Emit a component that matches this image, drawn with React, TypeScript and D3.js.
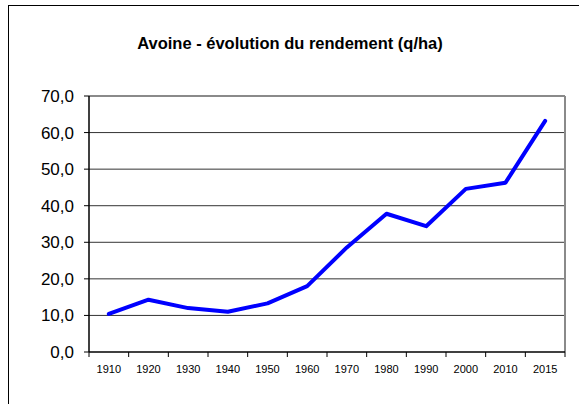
import React from "react";
import * as d3 from "d3";

const years = ["1910", "1920", "1930", "1940", "1950", "1960", "1970", "1980", "1990", "2000", "2010", "2015"];
const rendement = [10.4, 14.3, 12.0, 11.0, 13.3, 18.0, 28.6, 37.8, 34.4, 44.6, 46.3, 63.2];
const yTicks = [0, 10, 20, 30, 40, 50, 60, 70];

const W = 585;
const H = 404;
const plot = { left: 89, right: 565, top: 96, bottom: 352 };
const font = "'Liberation Sans', Arial, sans-serif";

export default function App() {
  const x = d3.scaleBand<string>().domain(years).range([plot.left, plot.right]).padding(0);
  const y = d3.scaleLinear().domain([0, 70]).range([plot.bottom, plot.top]);
  const cx = (d: string) => (x(d) as number) + x.bandwidth() / 2;

  const line = d3
    .line<number>()
    .x((_, i) => cx(years[i]))
    .y((d) => y(d));

  // tick marks sit on the band edges, like Excel category axes
  const xEdges = years.map((d) => x(d) as number).concat([plot.right]);

  return (
    <svg
      width={W}
      height={H}
      style={{ position: "absolute", left: 0, top: 0, background: "#fff" }}
      fontFamily={font}
    >
      {/* chart frame */}
      <line x1={8.5} x2={8.5} y1={5} y2={H} stroke="#000" strokeWidth={1} />
      <line x1={8} x2={579} y1={5.5} y2={5.5} stroke="#000" strokeWidth={1} />

      <text x={290} y={49} textAnchor="middle" fontSize={16.5} fontWeight="bold" fill="#000">
        Avoine - évolution du rendement (q/ha)
      </text>

      {/* grid */}
      {yTicks
        .filter((t) => t > 0 && t < 70)
        .map((t) => (
          <line key={t} x1={plot.left} x2={plot.right} y1={y(t)} y2={y(t)} stroke="#333" strokeWidth={1} />
        ))}

      {/* plot area border (gray) */}
      <line x1={plot.left} x2={plot.right} y1={plot.top} y2={plot.top} stroke="#8a8a8a" strokeWidth={2} />
      <line x1={plot.right} x2={plot.right} y1={plot.top} y2={plot.bottom} stroke="#8a8a8a" strokeWidth={2} />

      {/* y axis */}
      <line x1={plot.left} x2={plot.left} y1={plot.top} y2={plot.bottom} stroke="#000" strokeWidth={1.5} />
      {yTicks.map((t) => (
        <g key={t}>
          <line x1={plot.left - 5} x2={plot.left} y1={y(t)} y2={y(t)} stroke="#000" strokeWidth={1} />
          <text x={74} y={y(t) + 6} textAnchor="end" fontSize={17} fill="#000">
            {d3.format(".1f")(t).replace(".", ",")}
          </text>
        </g>
      ))}

      {/* x axis */}
      <line x1={plot.left} x2={plot.right} y1={plot.bottom} y2={plot.bottom} stroke="#000" strokeWidth={1.5} />
      {xEdges.map((e, i) => (
        <line key={i} x1={e} x2={e} y1={plot.bottom} y2={plot.bottom + 5} stroke="#000" strokeWidth={1} />
      ))}
      {years.map((d) => (
        <text key={d} x={cx(d)} y={373} textAnchor="middle" fontSize={11} fill="#000">
          {d}
        </text>
      ))}

      <path
        d={line(rendement) as string}
        fill="none"
        stroke="#0000ff"
        strokeWidth={4}
        strokeLinejoin="round"
        strokeLinecap="round"
      />
    </svg>
  );
}
